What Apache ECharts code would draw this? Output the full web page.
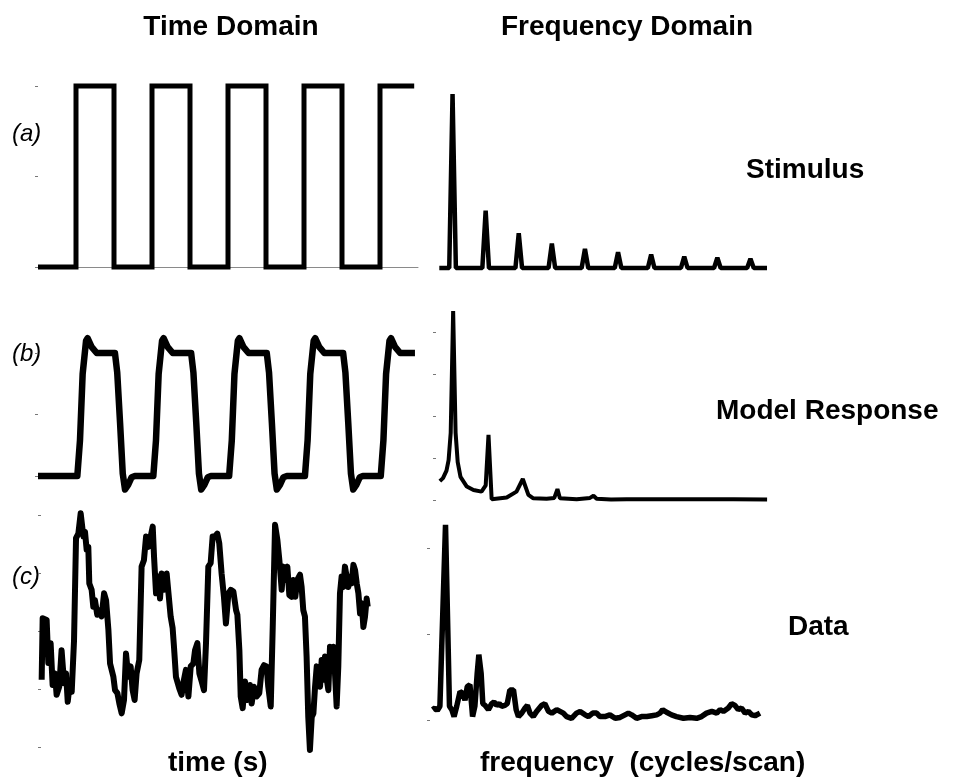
<!DOCTYPE html>
<html>
<head>
<meta charset="utf-8">
<title>Time and frequency domain</title>
<script src="https://cdn.jsdelivr.net/npm/echarts/dist/echarts.min.js"></script>
<style>
  html, body { margin: 0; padding: 0; background: #fff; }
  #chart { width: 959px; height: 782px; }
</style>
</head>
<body>
<div id="chart"></div>
<script>
// ---- text ----
const columnTitles = ['Time Domain', 'Frequency Domain'];
const rowNames = ['Stimulus', 'Model Response', 'Data'];
const panelTags = ['(a)', '(b)', '(c)'];
const axisNames = ['time (s)', 'frequency  (cycles/scan)'];

// ---- (a) stimulus: block design, [time s, on/off] ----
const stimTime = [
  [0, 0], [20, 0], [20, 1], [40, 1], [40, 0], [60, 0], [60, 1], [80, 1], [80, 0],
  [100, 0], [100, 1], [120, 1], [120, 0], [140, 0], [140, 1], [160, 1], [160, 0],
  [180, 0], [180, 1], [198, 1]
];
// stimulus amplitude spectrum, [cycles/scan, amplitude]
const stimSpec = [
  [1, 0], [4, 0], [5, 1], [6, 0], [14, 0], [15, 0.33], [16, 0], [24, 0], [25, 0.2], [26, 0],
  [34, 0], [35, 0.14], [36, 0], [44, 0], [45, 0.11], [46, 0], [54, 0], [55, 0.09], [56, 0],
  [64, 0], [65, 0.077], [66, 0], [74, 0], [75, 0.066], [76, 0], [84, 0], [85, 0.059], [86, 0],
  [94, 0], [95, 0.053], [96, 0], [100, 0]
];

// ---- (b) model response, [time s, response] ----
const modelTime = [
  [0, 0], [20.7, 0], [22.1, 0.29], [23.5, 0.83], [25.3, 1.1], [26.1, 1.12], [28.2, 1.05], [30.9, 1.0],
  [40.5, 1.0], [41.7, 0.84], [43.2, 0.43], [44.6, 0.02], [45.8, -0.11], [47.5, -0.07], [49.3, -0.01], [51, 0],
  [60.7, 0], [62.1, 0.29], [63.5, 0.83], [65.3, 1.1], [66.1, 1.12], [68.2, 1.05], [70.9, 1.0],
  [80.6, 1.0], [81.8, 0.84], [83.3, 0.43], [84.7, 0.02], [85.9, -0.11], [87.6, -0.07], [89.4, -0.01], [91, 0],
  [100.6, 0], [102.0, 0.29], [103.4, 0.83], [105.2, 1.1], [106.0, 1.12], [108.1, 1.05], [110.8, 1.0],
  [120.4, 1.0], [121.6, 0.84], [123.1, 0.43], [124.5, 0.02], [125.7, -0.11], [127.4, -0.07], [129.2, -0.01], [131, 0],
  [140.5, 0], [141.9, 0.29], [143.3, 0.83], [145.1, 1.1], [145.9, 1.12], [148.0, 1.05], [150.7, 1.0],
  [160.6, 1.0], [161.8, 0.84], [163.3, 0.43], [164.7, 0.02], [165.9, -0.11], [167.6, -0.07], [169.4, -0.01], [171, 0],
  [180.4, 0], [181.8, 0.29], [183.2, 0.83], [185.0, 1.1], [185.8, 1.12], [187.9, 1.05], [190.6, 1.0], [198.4, 1.0]
];
// model response spectrum, [cycles/scan, amplitude]
const modelSpec = [
  [1.1, 0.45], [2.0, 0.52], [3.0, 0.7], [3.6, 0.95], [4.2, 1.6], [4.9, 4.5], [5.6, 1.6], [6.2, 0.9],
  [7.0, 0.55], [8.8, 0.32], [10.7, 0.24], [13.0, 0.2], [14.2, 0.35], [15.0, 1.55], [15.9, 0.02],
  [20.2, 0.06], [23.0, 0.2], [24.8, 0.5], [26.4, 0.12], [27.8, 0.04], [31.6, 0.03], [33.8, 0.05],
  [34.7, 0.26], [35.4, 0.04], [40.2, 0.02], [44.0, 0.05], [45.0, 0.1], [45.9, 0.03], [50.0, 0.01],
  [54.5, 0.02], [55.0, 0.04], [55.6, 0.02], [64.5, 0.02], [65.0, 0.03], [65.6, 0.02], [75.0, 0.02],
  [85.0, 0.02], [94.6, 0.01]
];

// ---- (c) measured signal, [time s, signal] ----
const dataTime = [
  [0.4, 1.16], [1.0, 2.22], [3.4, 2.19], [4.4, 1.45], [5.8, 1.79], [7.0, 1.07], [8.4, 1.27], [9.4, 0.90],
  [11.0, 1.04], [12.4, 1.67], [13.9, 1.10], [15.1, 1.27], [16.1, 0.78], [17.5, 1.13], [18.5, 0.95], [19.9, 1.84],
  [21.1, 3.60], [22.5, 3.68], [23.9, 4.03], [25.5, 3.63], [26.5, 3.71], [27.5, 3.40], [28.5, 3.45], [29.1, 2.82],
  [30.5, 2.71], [31.5, 2.42], [32.5, 2.53], [33.9, 2.28], [35.1, 2.36], [36.5, 2.25], [38.0, 2.65], [39.2, 2.53],
  [40.6, 2.02], [41.6, 1.44], [43.6, 1.21], [44.6, 0.98], [46.0, 0.93], [47.2, 0.75], [48.6, 0.58], [50.0, 0.81],
  [51.2, 1.61], [52.6, 1.21], [54.0, 1.39], [55.2, 0.98], [56.4, 0.81], [57.6, 1.27], [59.2, 1.50], [60.6, 3.11],
  [62.0, 3.22], [63.3, 3.63], [64.7, 3.45], [66.1, 3.63], [67.3, 3.80], [68.1, 3.28], [69.3, 2.65], [70.7, 2.94],
  [71.7, 2.56], [72.7, 2.99], [74.1, 2.71], [75.7, 2.99], [76.7, 2.68], [78.1, 2.25], [79.3, 2.05], [80.1, 1.73],
  [81.3, 1.21], [83.3, 1.01], [84.7, 0.90], [86.1, 1.16], [87.3, 1.33], [88.8, 0.87], [90.2, 1.39], [91.8, 1.44],
  [92.8, 1.67], [94.2, 1.79], [95.4, 1.27], [96.8, 1.13], [98.2, 0.98], [99.4, 1.79], [100.8, 3.11], [102.2, 3.17],
  [103.4, 3.63], [104.8, 3.63], [106.2, 3.68], [107.4, 3.51], [108.8, 2.99], [110.2, 2.59], [111.4, 2.13], [112.9, 2.65],
  [114.3, 2.71], [115.9, 2.68], [117.5, 2.36], [118.3, 2.28], [119.5, 1.67], [120.3, 0.87], [121.5, 0.67], [122.9, 1.13],
  [124.3, 0.81], [125.9, 1.07], [126.9, 0.75], [128.3, 1.04], [129.9, 0.87], [131.5, 0.93], [132.9, 1.33], [134.3, 1.41],
  [135.9, 1.39], [136.9, 1.04], [138.4, 0.70], [139.6, 2.07], [141.0, 3.83], [142.4, 3.57], [143.6, 3.22], [145.0, 2.71],
  [146.0, 3.11], [147.0, 2.88], [148.4, 3.11], [149.6, 2.62], [151.0, 2.59], [152.0, 2.88], [153.2, 2.59], [154.4, 2.88],
  [156.0, 2.97], [157.0, 2.76], [158.0, 2.36], [159.0, 2.25], [160.0, 1.56], [161.0, 0.52], [162.0, -0.05], [163.1, 0.52],
  [164.1, 0.58], [165.1, 1.04], [166.1, 1.39], [167.1, 1.21], [168.1, 1.04], [169.1, 1.50], [170.1, 1.16], [171.1, 1.56],
  [172.1, 1.18], [173.1, 0.98], [174.1, 1.73], [175.1, 1.50], [176.1, 1.73], [177.1, 1.27], [178.1, 0.70], [179.1, 1.39],
  [180.1, 2.65], [181.1, 2.94], [182.1, 2.76], [183.1, 3.11], [184.1, 2.94], [185.1, 2.76], [186.1, 2.94], [187.1, 2.82],
  [188.2, 3.14], [189.2, 3.05], [190.2, 2.82], [191.2, 2.65], [192.2, 2.30], [193.2, 2.48], [194.2, 2.07], [195.2, 2.25],
  [196.2, 2.56], [196.8, 2.42]
];
// measured signal spectrum, [cycles/scan, amplitude]
const dataSpec = [
  [0.8, 0.12], [1.5, 0.14], [2.2, 0.11], [3.0, 0.16], [3.6, 0.16], [4.7, 2.27], [5.9, 0.16], [6.6, 0.12],
  [7.3, 0.04], [8.1, 0.16], [9.1, 0.33], [9.9, 0.31], [10.6, 0.23], [11.3, 0.39], [12.1, 0.41], [12.9, 0.04],
  [13.6, 0.16], [14.3, 0.54], [14.8, 0.76], [15.5, 0.54], [16.0, 0.19], [16.7, 0.17], [17.7, 0.12], [18.7, 0.19],
  [19.4, 0.21], [20.2, 0.17], [21.0, 0.19], [21.7, 0.16], [22.7, 0.17], [23.4, 0.19], [24.2, 0.35], [25.3, 0.35],
  [26.1, 0.12], [26.8, 0.04], [27.8, 0.08], [28.8, 0.14], [29.5, 0.17], [30.3, 0.08], [31.3, 0.04], [32.3, 0.10],
  [33.8, 0.17], [34.8, 0.19], [35.9, 0.10], [36.9, 0.08], [38.4, 0.12], [39.4, 0.10], [40.4, 0.08], [41.4, 0.04],
  [42.9, 0.02], [44.4, 0.08], [45.5, 0.10], [47.0, 0.06], [48.0, 0.04], [49.3, 0.08], [50.5, 0.08], [51.5, 0.04],
  [53.0, 0.04], [54.5, 0.06], [56.1, 0.02], [57.6, 0.03], [59.1, 0.06], [60.1, 0.08], [61.1, 0.06], [62.6, 0.02],
  [64.1, 0.04], [65.7, 0.04], [67.2, 0.05], [68.7, 0.06], [69.7, 0.08], [70.5, 0.12], [71.7, 0.09], [73.2, 0.06],
  [74.7, 0.04], [76.8, 0.02], [78.8, 0.03], [80.8, 0.02], [82.3, 0.04], [83.8, 0.08], [85.4, 0.10], [86.9, 0.08],
  [87.9, 0.12], [88.9, 0.10], [90.4, 0.14], [91.4, 0.19], [92.4, 0.17], [93.4, 0.12], [94.4, 0.14], [95.5, 0.08],
  [96.5, 0.10], [97.5, 0.06], [98.5, 0.05], [100.0, 0.08]
];

// ---- layout ----
const panels = [
  { data: stimTime,  left: 38,  top: 86,  width: 380, height: 181, x: [0, 200], y: [0, 1], step: 0.5, ticks: true,  base: true,  lw: 5,   join: 'miter' },
  { data: stimSpec,  left: 436, top: 94,  width: 331, height: 174, x: [0, 100], y: [0, 1], step: 0.5, ticks: false, base: false, lw: 4.5, join: 'bevel' },
  { data: modelTime, left: 38,  top: 353, width: 380, height: 123, x: [0, 200], y: [0, 1], step: 0.5, ticks: true,  base: false, lw: 6.5, join: 'round' },
  { data: modelSpec, left: 436, top: 332, width: 350, height: 168, x: [0, 100], y: [0, 4], step: 1,   ticks: true,  base: false, lw: 4,   join: 'bevel' },
  { data: dataTime,  left: 41,  top: 515, width: 332, height: 232, x: [0, 200], y: [0, 4], step: 1,   ticks: true,  base: false, lw: 6,   join: 'round' },
  { data: dataSpec,  left: 430, top: 548, width: 330, height: 172, x: [0, 100], y: [0, 2], step: 1,   ticks: true,  base: false, lw: 5.5, join: 'bevel' }
];

const grid = [], xAxis = [], yAxis = [], series = [];
panels.forEach((p, i) => {
  grid.push({ left: p.left, top: p.top, width: p.width, height: p.height, containLabel: false });
  xAxis.push({
    type: 'value', gridIndex: i, min: p.x[0], max: p.x[1],
    offset: p.base ? 2 : 0,
    axisLine: { show: p.base, lineStyle: { color: '#8a8a8a', width: 1 } },
    axisTick: { show: false }, axisLabel: { show: false }, splitLine: { show: false }
  });
  yAxis.push({
    type: 'value', gridIndex: i, min: p.y[0], max: p.y[1], interval: p.step,
    axisLine: { show: false },
    axisTick: { show: p.ticks, length: 3, lineStyle: { color: '#777', width: 1 } },
    axisLabel: { show: false }, splitLine: { show: false }
  });
  series.push({
    type: 'line', xAxisIndex: i, yAxisIndex: i, data: p.data,
    showSymbol: false, symbol: 'none', clip: false, silent: true,
    lineStyle: { color: '#000', width: p.lw, join: p.join, cap: 'butt' }
  });
});

const bold = 'bold 28px "Liberation Sans", Arial, Helvetica, sans-serif';
const italic = 'italic 24px "Liberation Sans", Arial, Helvetica, sans-serif';
function label(text, x, y, font, align) {
  return { type: 'text', silent: true, style: { text, x, y, font, fill: '#000', textAlign: align || 'left', textVerticalAlign: 'middle' } };
}
const graphic = [
  label(columnTitles[0], 231, 27, bold, 'center'),
  label(columnTitles[1], 627, 27, bold, 'center'),
  label(rowNames[0], 746, 170, bold),
  label(rowNames[1], 716, 411, bold),
  label(rowNames[2], 788, 627, bold),
  label(panelTags[0], 12, 134, italic),
  label(panelTags[1], 12, 354, italic),
  label(panelTags[2], 12, 577, italic),
  label(axisNames[0], 168, 763, bold),
  label(axisNames[1], 480, 763, bold)
];

const chart = echarts.init(document.getElementById('chart'), null, { renderer: 'canvas' });
chart.setOption({
  animation: false,
  backgroundColor: '#fff',
  grid, xAxis, yAxis, series, graphic
});
</script>
</body>
</html>
